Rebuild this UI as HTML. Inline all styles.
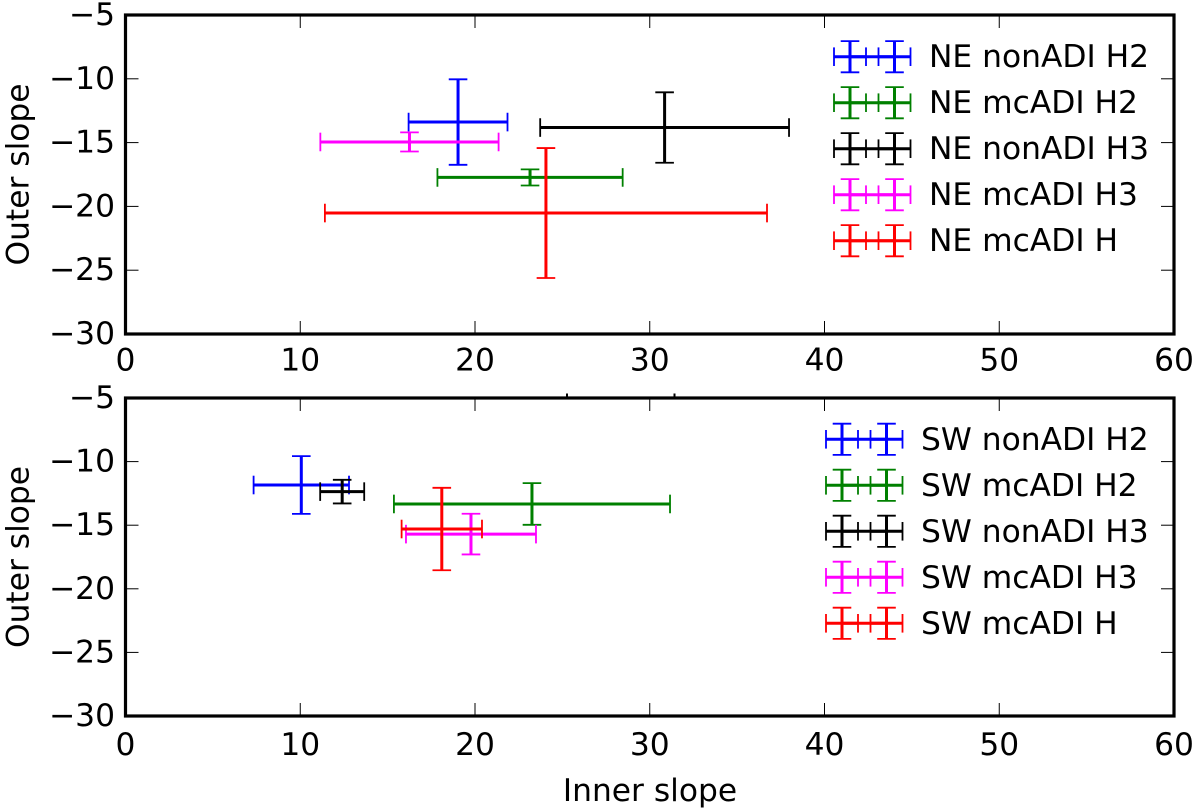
<!DOCTYPE html>
<html lang="en">
<head>
<meta charset="utf-8">
<title>Inner and outer slope measurements</title>
<style>
html,body{margin:0;padding:0;background:#fff;width:1200px;height:811px;overflow:hidden}
svg{display:block}
text{font-family:"DejaVu Sans","Liberation Sans",sans-serif;font-size:31.3px;fill:#000}
</style>
</head>
<body>
<svg id="chart" xmlns="http://www.w3.org/2000/svg" width="1200" height="811" viewBox="0 0 1200 811"></svg>
<script>
// Shared axis data
const xTicks = [0, 10, 20, 30, 40, 50, 60];
const yTicks = [-5, -10, -15, -20, -25, -30];
const seriesColors = ['#0000ff', '#008000', '#000000', '#ff00ff', '#ff0000'];

// North-east panel data
const neLabels = ['NE nonADI H2', 'NE mcADI H2', 'NE nonADI H3', 'NE mcADI H3', 'NE mcADI H'];
const neInner = [19.03, 23.15, 30.85, 16.25, 24.06];
const neInnerErr = [2.83, 5.3, 7.12, 5.1, 12.65];
const neOuter = [-13.39, -17.73, -13.82, -14.95, -20.52];
const neOuterErr = [3.35, 0.63, 2.76, 0.75, 5.09];

// South-west panel data
const swLabels = ['SW nonADI H2', 'SW mcADI H2', 'SW nonADI H3', 'SW mcADI H3', 'SW mcADI H'];
const swInner = [10.06, 23.26, 12.4, 19.77, 18.1];
const swInnerErr = [2.73, 7.9, 1.26, 3.72, 2.3];
const swOuter = [-11.84, -13.33, -12.36, -15.7, -15.3];
const swOuterErr = [2.27, 1.64, 0.93, 1.6, 3.24];

const SVG_NS = 'http://www.w3.org/2000/svg';
const root = document.getElementById('chart');
const CAP = 9.3;
const BAR_WIDTH = 3;
const CAP_WIDTH = 1.8;

function group(parent, name) {
  const g = document.createElementNS(SVG_NS, 'g');
  
  
  parent.appendChild(g);
  return g;
}

function line(parent, x1, y1, x2, y2, color, width, name) {
  const l = document.createElementNS(SVG_NS, 'line');
  l.setAttribute('x1', x1);
  l.setAttribute('y1', y1);
  l.setAttribute('x2', x2);
  l.setAttribute('y2', y2);
  l.setAttribute('stroke', color);
  l.setAttribute('stroke-width', width);
  
  
  parent.appendChild(l);
  return l;
}

function label(parent, x, y, str, anchor, name, transform) {
  const t = document.createElementNS(SVG_NS, 'text');
  t.setAttribute('x', x);
  t.setAttribute('y', y);
  t.setAttribute('text-anchor', anchor);
  if (transform) t.setAttribute('transform', transform);
  
  
  t.textContent = str;
  parent.appendChild(t);
  return t;
}

function drawCross(parent, px, py, halfX, halfY, color, prefix) {
  line(parent, px - halfX, py, px + halfX, py, color, BAR_WIDTH, prefix + '-inner-error-bar');
  line(parent, px, py - halfY, px, py + halfY, color, BAR_WIDTH, prefix + '-outer-error-bar');
  line(parent, px - halfX, py - CAP, px - halfX, py + CAP, color, CAP_WIDTH, prefix + '-cap-left');
  line(parent, px + halfX, py - CAP, px + halfX, py + CAP, color, CAP_WIDTH, prefix + '-cap-right');
  line(parent, px - CAP, py - halfY, px + CAP, py - halfY, color, CAP_WIDTH, prefix + '-cap-top');
  line(parent, px - CAP, py + halfY, px + CAP, py + halfY, color, CAP_WIDTH, prefix + '-cap-bottom');
}

function drawPanel(cfg) {
  const panel = group(root, cfg.name + '-panel');
  const L = 125.5, R = 1174, T = cfg.top, B = cfg.bottom;
  const sx = v => L + (v - xTicks[0]) / (xTicks[xTicks.length - 1] - xTicks[0]) * (R - L);
  const sy = v => T + (yTicks[0] - v) / (yTicks[0] - yTicks[yTicks.length - 1]) * (B - T);
  const dx = v => v / (xTicks[xTicks.length - 1] - xTicks[0]) * (R - L);
  const dy = v => v / (yTicks[0] - yTicks[yTicks.length - 1]) * (B - T);

  const ticks = group(panel, cfg.name + '-ticks');
  xTicks.forEach(v => {
    if (v !== xTicks[0] && v !== xTicks[xTicks.length - 1]) {
      line(ticks, sx(v), B, sx(v), B - 13, '#000', 1, 'x-tick-bottom-' + v);
      line(ticks, sx(v), T, sx(v), T + 13, '#000', 1, 'x-tick-top-' + v);
    }
    label(ticks, sx(v), cfg.xLabelY, String(v), 'middle', 'x-tick-label-' + v);
  });
  yTicks.forEach(v => {
    if (v !== yTicks[0] && v !== yTicks[yTicks.length - 1]) {
      line(ticks, L, sy(v), L + 13, sy(v), '#000', 1, 'y-tick-left-' + v);
      line(ticks, R, sy(v), R - 13, sy(v), '#000', 1, 'y-tick-right-' + v);
    }
    label(ticks, 115, sy(v) + 10, '\u2212' + Math.abs(v), 'end', 'y-tick-label-' + v);
  });

  const marks = group(panel, cfg.name + '-series');
  cfg.labels.forEach((name, i) => {
    const g = group(marks, 'series-' + name.toLowerCase().replace(/ /g, '-'));
    drawCross(g, sx(cfg.inner[i]), sy(cfg.outer[i]), dx(cfg.innerErr[i]), dy(cfg.outerErr[i]), seriesColors[i], 'point');
  });

  const frame = document.createElementNS(SVG_NS, 'rect');
  frame.setAttribute('x', L);
  frame.setAttribute('y', T);
  frame.setAttribute('width', R - L);
  frame.setAttribute('height', B - T);
  frame.setAttribute('fill', 'none');
  frame.setAttribute('stroke', '#000');
  frame.setAttribute('stroke-width', 3.2);
  
  
  panel.appendChild(frame);

  const titleY = (T + B) / 2;
  label(panel, 28.5, titleY, 'Outer slope', 'middle', cfg.name + '-y-axis-title',
    'rotate(-90 28.5 ' + titleY + ')');

  const legend = group(panel, cfg.name + '-legend');
  cfg.labels.forEach((name, i) => {
    const g = group(legend, 'legend-entry-' + name.toLowerCase().replace(/ /g, '-'));
    const rowY = cfg.legendY + i * 46;
    line(g, cfg.legendX, rowY, cfg.legendX + 44.5, rowY, seriesColors[i], BAR_WIDTH, 'legend-handle-link');
    drawCross(g, cfg.legendX, rowY, 16, 15.6, seriesColors[i], 'legend-handle-a');
    drawCross(g, cfg.legendX + 44.5, rowY, 16, 15.6, seriesColors[i], 'legend-handle-b');
    label(g, cfg.legendTextX, rowY + 10.5, name, 'start', 'legend-label');
  });
}

drawPanel({
  name: 'ne', top: 15, bottom: 334, xLabelY: 370.5,
  labels: neLabels, inner: neInner, innerErr: neInnerErr, outer: neOuter, outerErr: neOuterErr,
  legendX: 850, legendY: 56.7, legendTextX: 929
});
drawPanel({
  name: 'sw', top: 398, bottom: 716, xLabelY: 755,
  labels: swLabels, inner: swInner, innerErr: swInnerErr, outer: swOuter, outerErr: swOuterErr,
  legendX: 842, legendY: 439.3, legendTextX: 921
});

label(root, 650, 801, 'Inner slope', 'middle', 'x-axis-title');

line(root, 567, 393.5, 567, 397, '#000', 2, 'stray-tick-left');
line(root, 674.5, 393.5, 674.5, 397, '#000', 2, 'stray-tick-right');
</script>
</body>
</html>
